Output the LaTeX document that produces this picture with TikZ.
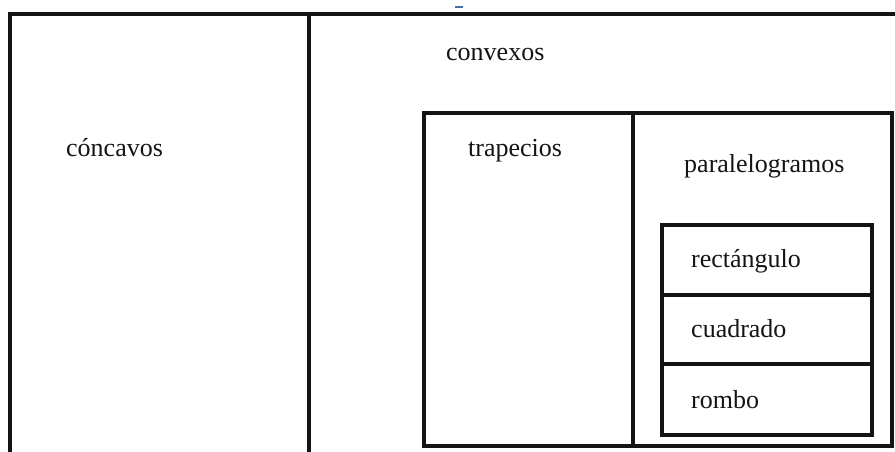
\documentclass[tikz,border=0pt]{standalone}
\usepackage{fontspec}
\setmainfont{Liberation Serif}
\definecolor{inkc}{RGB}{20,20,20}
\definecolor{markblue}{RGB}{70,110,170}
\begin{document}
\begin{tikzpicture}[x=1pt,y=-1pt,
  rule/.style={line width=3.2pt, draw=inkc},
  lbl/.style={font=\fontsize{26}{30}\selectfont, inner sep=0pt, anchor=base west, text=inkc}]
\useasboundingbox (0,0) rectangle (895,452);
% outer frame lines
\draw[rule] (10,452) -- (10,14) -- (895,14);
\draw[rule] (309,14) -- (309,452);
% convex sub-box
\draw[rule] (424,113) rectangle (892,446);
\draw[rule] (633,113) -- (633,446);
% parallelogram sub-box
\draw[rule] (662,225) rectangle (872,435);
\draw[rule] (662,295) -- (872,295);
\draw[rule] (662,364) -- (872,364);
% small blue mark
\draw[markblue, line width=1.8pt] (455,7) -- (463,7);
% labels
\node[lbl] (concavos) at (66,157) {cóncavos};
\node[lbl] (convexos) at (446,61) {convexos};
\node[lbl] (trapecios) at (468,157) {trapecios};
\node[lbl] (paralelogramos) at (684,172) {paralelogramos};
\node[lbl] (rectangulo) at (691,267) {rectángulo};
\node[lbl] (cuadrado) at (691,337) {cuadrado};
\node[lbl] (rombo) at (691,408) {rombo};
\end{tikzpicture}
\end{document}
